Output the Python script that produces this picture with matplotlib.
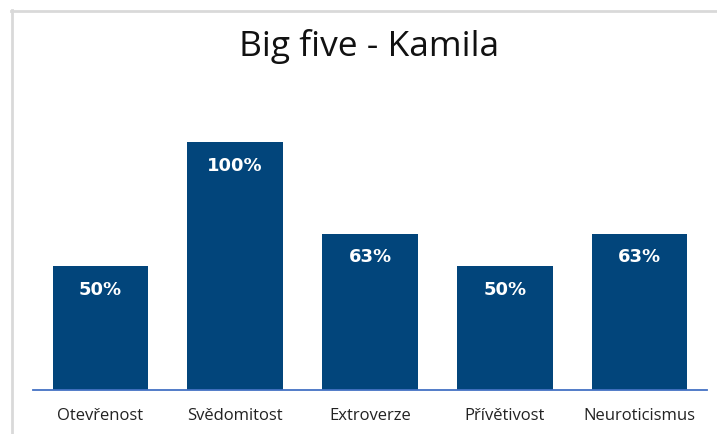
import matplotlib.pyplot as plt
from matplotlib.lines import Line2D

categories = ['Otevřenost', 'Svědomitost', 'Extroverze', 'Přívětivost', 'Neuroticismus']
values = [0.50, 1.00, 0.63, 0.50, 0.63]
labels = ['50%', '100%', '63%', '50%', '63%']

W, H = 717, 434
fig = plt.figure(figsize=(W / 100, H / 100), dpi=100)

# chart frame (light gray, cut off on right/bottom)
fig.add_artist(Line2D([11 / W, 1], [1 - 10.5 / H, 1 - 10.5 / H], color='#d9d9d9', lw=2))
fig.add_artist(Line2D([11.5 / W, 11.5 / W], [0, 1 - 10 / H], color='#d9d9d9', lw=2))

ax = fig.add_axes([33 / W, 44 / H, 674 / W, 248 / H])
x = range(len(categories))
bars = ax.bar(x, values, width=0.71, color='#02457B')
ax.set_xlim(-0.5, len(categories) - 0.5)
ax.set_ylim(0, 1)

for b, lab in zip(bars, labels):
    ax.text(b.get_x() + b.get_width() / 2, b.get_height() - 0.095, lab,
            ha='center', va='center', color='white', fontsize=13,
            fontweight='bold', family='DejaVu Sans')

for s in ['top', 'right', 'left']:
    ax.spines[s].set_visible(False)
ax.spines['bottom'].set_color('#4472C4')
ax.spines['bottom'].set_linewidth(1.3)
ax.set_yticks([])
ax.set_xticks(list(x))
ax.set_xticklabels(categories, fontsize=12, family='Open Sans', color='#222222')
ax.tick_params(axis='x', length=0, pad=13)

fig.text(369.5 / W, 1 - 47 / H, 'Big five - Kamila', ha='center', va='center',
         fontsize=25.5, family='Open Sans', color='#111111')

fig.savefig('out.png', dpi=100, facecolor='white')
